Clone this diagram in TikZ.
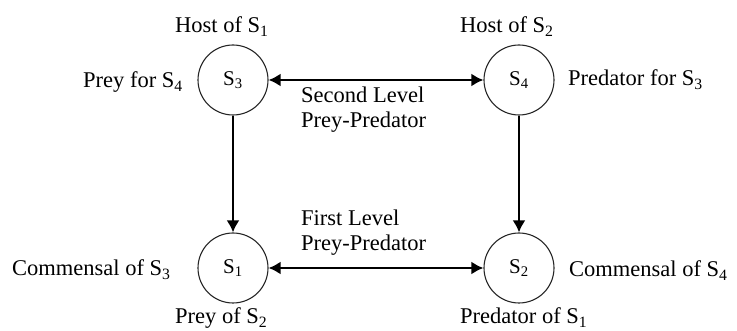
\documentclass[tikz,border=0pt]{standalone}
\usepackage{fontspec}
\setmainfont{Liberation Serif}
\usetikzlibrary{arrows.meta}

\tikzset{
  species/.style={circle, draw=black!85, line width=1.1pt, minimum size=70pt,
                  inner sep=0pt, font=\fontsize{21}{25}\selectfont},
  lbl/.style={anchor=base west, inner sep=0pt, font=\fontsize{22.5}{27}\selectfont},
  link/.style={line width=2.8pt, -{Latex[length=12pt,width=13pt]}},
  bilink/.style={line width=2.8pt, {Latex[length=12pt,width=13pt]}-{Latex[length=12pt,width=13pt]}}
}

\begin{document}
\begin{tikzpicture}[x=1pt, y=-1pt]
  \useasboundingbox (0,0) rectangle (737,331);

  % the four species
  \node[species] (s3) at (233,80)  {S\textsubscript{3}};
  \node[species] (s4) at (519,80)  {S\textsubscript{4}};
  \node[species] (s1) at (233,268) {S\textsubscript{1}};
  \node[species] (s2) at (519,268) {S\textsubscript{2}};

  % interactions
  \draw[bilink] (s3) -- (s4);
  \draw[bilink] (s1) -- (s2);
  \draw[link] (s3) -- (s1);
  \draw[link] (s4) -- (s2);

  % roles around each species
  \node[lbl] (h1) at (175,33)  {Host of S\textsubscript{1}};
  \node[lbl] (h2) at (460,33)  {Host of S\textsubscript{2}};
  \node[lbl] (p4) at (83,88)   {Prey for S\textsubscript{4}};
  \node[lbl] (p3) at (568,86)  {Predator for S\textsubscript{3}};
  \node[lbl] (c3) at (12,276)  {Commensal of S\textsubscript{3}};
  \node[lbl] (c4) at (569,277) {Commensal of S\textsubscript{4}};
  \node[lbl] (y2) at (175,324) {Prey of S\textsubscript{2}};
  \node[lbl] (d1) at (460,324) {Predator of S\textsubscript{1}};

  % level captions
  \node[lbl] (sl1) at (301,103) {Second Level};
  \node[lbl] (sl2) at (301,128) {Prey-Predator};
  \node[lbl] (fl1) at (301,226) {First Level};
  \node[lbl] (fl2) at (301,251) {Prey-Predator};
\end{tikzpicture}
\end{document}
